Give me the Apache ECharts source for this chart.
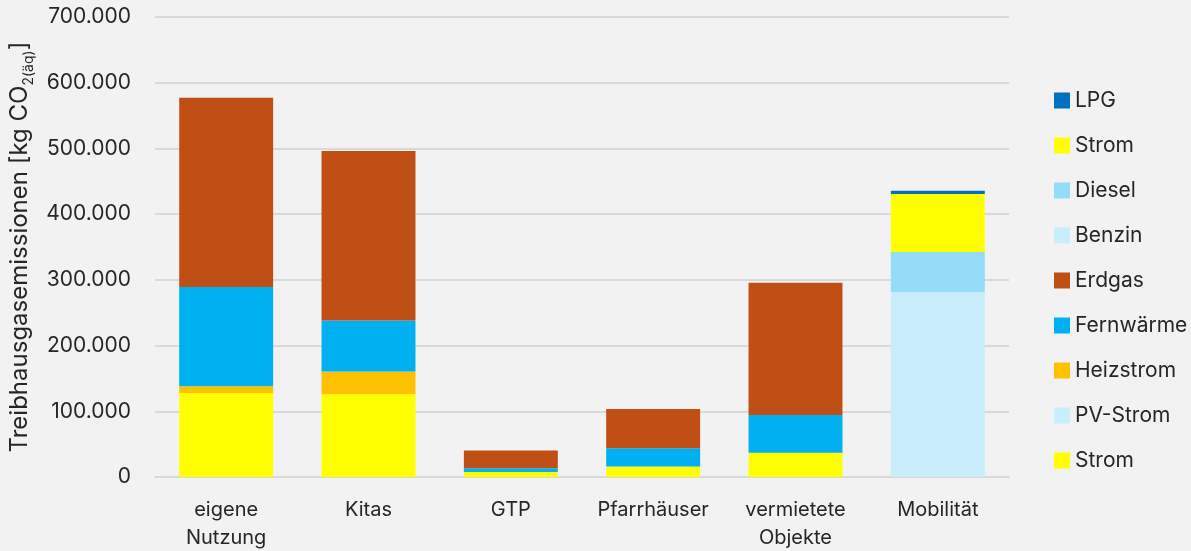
<!DOCTYPE html>
<html>
<head>
<meta charset="utf-8">
<script src="https://cdn.jsdelivr.net/npm/echarts@6/dist/echarts.min.js"></script>
<style>
html,body{margin:0;padding:0;background:#F2F2F2;}
#chart{width:1191px;height:551px;}
</style>
</head>
<body>
<div id="chart"></div>
<script>
const categories = ['eigene\nNutzung', 'Kitas', 'GTP', 'Pfarrhäuser', 'vermietete\nObjekte', 'Mobilität'];
const yTicks = [0, 100000, 200000, 300000, 400000, 500000, 600000, 700000];

// stacking order bottom -> top
const stromGeb   = [128000, 126000, 7700, 15900, 37000, 0];
const pvStrom    = [0, 0, 0, 0, 0, 0];
const heizstrom  = [10000, 34500, 0, 0, 0, 0];
const fernwaerme = [151000, 77500, 5600, 27700, 57500, 0];
const erdgas     = [288000, 258000, 27000, 60000, 201000, 0];
const benzin     = [0, 0, 0, 0, 0, 281500];
const diesel     = [0, 0, 0, 0, 0, 61000];
const stromMob   = [0, 0, 0, 0, 0, 88000];
const lpg        = [0, 0, 0, 0, 0, 5000];

const seriesNames = ['Strom', 'PV-Strom', 'Heizstrom', 'Fernwärme', 'Erdgas', 'Benzin', 'Diesel', 'Strom ', 'LPG'];
const seriesData = [stromGeb, pvStrom, heizstrom, fernwaerme, erdgas, benzin, diesel, stromMob, lpg];
const seriesColors = ['#FFFF00', '#CAEEFB', '#FFC000', '#00B0F0', '#C04F15', '#CAEDFB', '#94DCF8', '#FFFF00', '#0070C0'];

const font = 'Inter, "Open Sans", sans-serif';
const chart = echarts.init(document.getElementById('chart'), null, {renderer: 'canvas'});

const fmt = v => String(v).replace(/\B(?=(\d{3})+(?!\d))/g, '.');

chart.setOption({
  backgroundColor: '#F2F2F2',
  animation: false,
  textStyle: {fontFamily: font},
  grid: {left: 155, right: 182, top: 17, bottom: 74, containLabel: false, outerBoundsMode: 'none'},
  legend: {
    orient: 'vertical',
    left: 1049,
    top: 85,
    itemWidth: 16,
    itemHeight: 16,
    itemGap: 24,
    icon: 'rect',
    data: seriesNames.slice().reverse(),
    formatter: n => n.trim(),
    textStyle: {fontFamily: font, fontSize: 21, lineHeight: 20, color: '#262626', padding: [0, 0, 0, 0]}
  },
  xAxis: {
    type: 'category',
    data: categories,
    axisTick: {show: false},
    axisLine: {show: true, lineStyle: {color: '#D9D9D9', width: 2}},
    axisLabel: {fontFamily: font, fontSize: 20, color: '#262626', margin: 19, lineHeight: 28, interval: 0}
  },
  yAxis: {
    type: 'value',
    min: 0,
    max: 700000,
    interval: 100000,
    name: '{a|Treibhausgasemissionen [kg CO}{s|2(äq)}{a|]}',
    nameLocation: 'middle',
    nameRotate: 90,
    nameGap: 120,
    nameTextStyle: {
      rich: {
        a: {fontFamily: font, fontSize: 24, color: '#262626', lineHeight: 30, verticalAlign: 'bottom'},
        s: {fontFamily: font, fontSize: 14, color: '#262626', lineHeight: 30, verticalAlign: 'bottom', padding: [0, 0, -4, 0]}
      }
    },
    axisLine: {show: false},
    axisTick: {show: false},
    splitLine: {lineStyle: {color: '#D9D9D9', width: 2}},
    axisLabel: {fontFamily: font, fontSize: 21, color: '#262626', margin: 24, formatter: v => yTicks.includes(v) ? fmt(v) : ''}
  },
  series: seriesNames.map((n, i) => ({
    name: n,
    type: 'bar',
    stack: 'total',
    barWidth: '66%',
    data: seriesData[i],
    itemStyle: {color: seriesColors[i]}
  }))
});
</script>
</body>
</html>
